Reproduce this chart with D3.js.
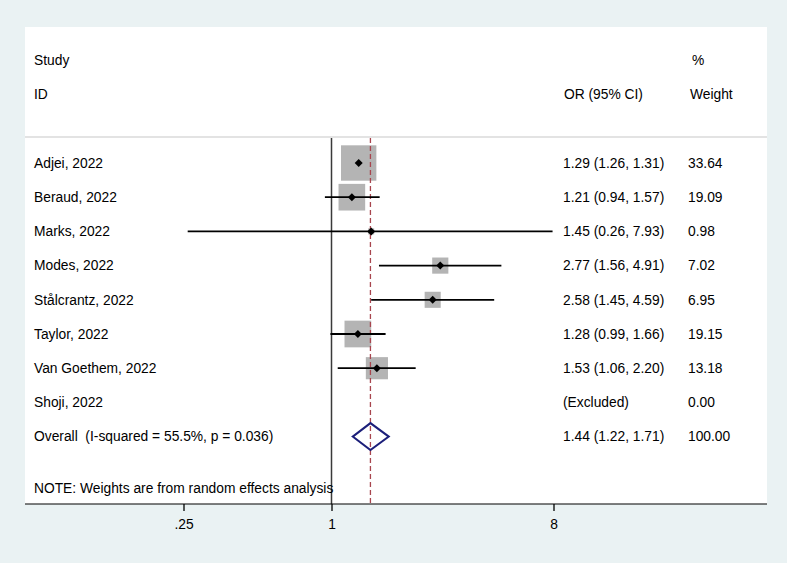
<!DOCTYPE html>
<html>
<head>
<meta charset="utf-8">
<script src="https://cdn.jsdelivr.net/npm/d3@7"></script>
<style>
html,body{margin:0;padding:0;background:#EAF2F3;}
svg{display:block;}
text{font-family:"Liberation Sans",Arial,sans-serif;font-size:13.8px;fill:#000;white-space:pre;}
</style>
</head>
<body>
<svg id="chart" width="787" height="563"></svg>
<script>
const studies = ["Adjei, 2022","Beraud, 2022","Marks, 2022","Modes, 2022","Stålcrantz, 2022","Taylor, 2022","Van Goethem, 2022","Shoji, 2022"];
const orValues = [1.29, 1.21, 1.45, 2.77, 2.58, 1.28, 1.53, null];
const lowerCI = [1.26, 0.94, 0.26, 1.56, 1.45, 0.99, 1.06, null];
const upperCI = [1.31, 1.57, 7.93, 4.91, 4.59, 1.66, 2.20, null];
const weights = [33.64, 19.09, 0.98, 7.02, 6.95, 19.15, 13.18, 0.00];
const ciLabels = ["1.29 (1.26, 1.31)","1.21 (0.94, 1.57)","1.45 (0.26, 7.93)","2.77 (1.56, 4.91)","2.58 (1.45, 4.59)","1.28 (0.99, 1.66)","1.53 (1.06, 2.20)","(Excluded)"];
const weightLabels = ["33.64","19.09","0.98","7.02","6.95","19.15","13.18","0.00"];
const overall = {label:"Overall  (I-squared = 55.5%, p = 0.036)", or:1.44, lower:1.22, upper:1.71, ci:"1.44 (1.22, 1.71)", weight:"100.00"};
const tickValues = [0.25, 1, 8];
const tickLabels = [".25", "1", "8"];
const note = "NOTE: Weights are from random effects analysis";

const svg = d3.select("#chart");
const plot = {left:25, right:767, top:27, bottom:504};

// white plot region
svg.append("rect").attr("x",plot.left).attr("y",plot.top)
  .attr("width",plot.right-plot.left).attr("height",plot.bottom-plot.top)
  .attr("fill","#fff");

const x = d3.scaleLog().base(2).domain([0.25, 8]).range([183.5, 553.5]);
const y = d3.scaleLinear().domain([0, 8]).range([163, 436.6]);
const sepY = 137;

// separator line
svg.append("line").attr("x1",plot.left).attr("x2",plot.right)
  .attr("y1",sepY).attr("y2",sepY).attr("stroke","#C8C8C8").attr("stroke-width",1.2);

const colStudy = 34, colCI = 563, colW = 688;

// headers
svg.append("text").attr("x",colStudy).attr("y",y(-3)).attr("dy","0.35em").text("Study");
svg.append("text").attr("x",colStudy).attr("y",y(-2)).attr("dy","0.35em").text("ID");
svg.append("text").attr("x",colW+4).attr("y",y(-3)).attr("dy","0.35em").text("%");
svg.append("text").attr("x",colCI+1).attr("y",y(-2)).attr("dy","0.35em").text("OR (95% CI)");
svg.append("text").attr("x",colW+2).attr("y",y(-2)).attr("dy","0.35em").text("Weight");

// boxes
const k = 6.1;
const idx = d3.range(studies.length).filter(i => orValues[i] != null);
svg.append("g").selectAll("rect").data(idx).join("rect")
  .attr("x", i => x(orValues[i]) - k*Math.sqrt(weights[i])/2)
  .attr("y", i => y(i) - k*Math.sqrt(weights[i])/2)
  .attr("width", i => k*Math.sqrt(weights[i]))
  .attr("height", i => k*Math.sqrt(weights[i]))
  .attr("fill","#B4B4B4");

// reference line at 1
svg.append("line").attr("x1",x(1)).attr("x2",x(1)).attr("y1",sepY+1).attr("y2",plot.bottom)
  .attr("stroke","#3a3a3a").attr("stroke-width",1.5);

// overall dashed line
svg.append("line").attr("x1",x(overall.or)).attr("x2",x(overall.or)).attr("y1",sepY+1).attr("y2",plot.bottom)
  .attr("stroke","#A8454E").attr("stroke-width",1.3).attr("stroke-dasharray","5,3");

// CI lines
svg.append("g").selectAll("line").data(idx).join("line")
  .attr("x1", i => x(lowerCI[i])).attr("x2", i => x(upperCI[i]))
  .attr("y1", i => y(i)).attr("y2", i => y(i))
  .attr("stroke","#000").attr("stroke-width",1.8);

// point markers (small diamonds)
const pr = 4;
svg.append("g").selectAll("path").data(idx).join("path")
  .attr("d", i => {const cx=x(orValues[i]), cy=y(i);
    return `M${cx-pr},${cy}L${cx},${cy-pr}L${cx+pr},${cy}L${cx},${cy+pr}Z`;})
  .attr("fill","#000");

// overall diamond
const oy = y(8), dh = 13.5;
svg.append("path")
  .attr("d", `M${x(overall.lower)},${oy}L${x(overall.or)},${oy-dh}L${x(overall.upper)},${oy}L${x(overall.or)},${oy+dh}Z`)
  .attr("fill","none").attr("stroke","#1C1F7A").attr("stroke-width",2);

// row labels
const g = svg.append("g");
g.selectAll("text.s").data(studies).join("text").attr("class","s")
  .attr("x",colStudy).attr("y",(d,i)=>y(i)).attr("dy","0.35em").text(d=>d);
g.selectAll("text.c").data(ciLabels).join("text").attr("class","c")
  .attr("x",colCI).attr("y",(d,i)=>y(i)).attr("dy","0.35em").text(d=>d);
g.selectAll("text.w").data(weightLabels).join("text").attr("class","w")
  .attr("x",colW).attr("y",(d,i)=>y(i)).attr("dy","0.35em").text(d=>d);

svg.append("text").attr("x",colStudy).attr("y",y(8)).attr("dy","0.35em").text(overall.label);
svg.append("text").attr("x",colCI).attr("y",y(8)).attr("dy","0.35em").text(overall.ci);
svg.append("text").attr("x",colW).attr("y",y(8)).attr("dy","0.35em").text(overall.weight);
svg.append("text").attr("x",colStudy).attr("y",y(9.5)).attr("dy","0.35em").text(note);

// axis
svg.append("line").attr("x1",plot.left).attr("x2",plot.right)
  .attr("y1",plot.bottom).attr("y2",plot.bottom).attr("stroke","#000").attr("stroke-width",1.2);
const axis = d3.axisBottom(x).tickValues(tickValues).tickFormat((d,i)=>tickLabels[i]).tickSize(7).tickPadding(8).tickSizeOuter(0);
const ag = svg.append("g").attr("transform",`translate(0,${plot.bottom})`).call(axis);
ag.select(".domain").remove();
ag.selectAll(".tick line").attr("stroke","#000").attr("stroke-width",1.3);
ag.selectAll(".tick text").style("font-size","13.8px").style("font-family","'Liberation Sans',Arial,sans-serif").attr("fill","#000");
</script>
</body>
</html>
